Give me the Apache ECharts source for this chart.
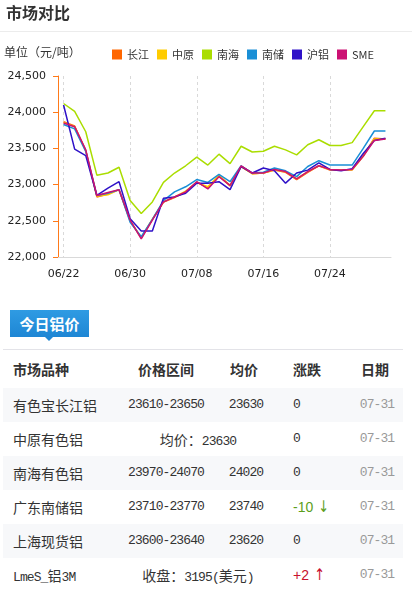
<!DOCTYPE html>
<html>
<head>
<meta charset="utf-8">
<script src="https://cdn.jsdelivr.net/npm/echarts@6/dist/echarts.min.js"></script>
<style>
  html,body{margin:0;padding:0;background:#fff;}
  body{width:412px;height:597px;position:relative;overflow:hidden;font-family:"Noto Sans CJK SC",sans-serif;color:#333;}
  #chart{position:absolute;left:0;top:0;width:412px;height:300px;}
  .abs{position:absolute;white-space:nowrap;}
  .row{position:absolute;left:3px;width:400px;height:34px;}
  .gray{background:#f7f8fa;}
  .cell{position:absolute;top:0;height:34px;line-height:34px;font-size:14px;color:#333;white-space:nowrap;}
  .mono{font-family:"Liberation Mono",monospace;font-size:13px;letter-spacing:-0.9px;}
  .c1{left:10px;}
  .c2{left:113px;width:100px;text-align:center;}
  .c3{left:213px;width:60px;text-align:center;}
  .c23{left:125px;width:140px;text-align:center;}
  .c4{left:290px;}
  .c5{left:344px;width:60px;text-align:center;color:#999;}
  .hd{font-weight:bold;font-size:14px;}
  .arr{font-family:"DejaVu Sans";font-size:16px;display:inline-block;transform:scaleX(0.8);}
</style>
</head>
<body>
<div id="chart"></div>
<div class="abs" style="left:6px;top:2px;font-size:16px;font-weight:bold;line-height:20px;color:#333;">市场对比</div>
<div class="abs" style="left:0;top:31px;width:412px;height:1px;background:#ececec;"></div>

<div class="abs" style="left:10px;top:310px;width:79px;height:27px;background:linear-gradient(#2f9be3,#1e86d4);color:#fff;font-size:15px;font-weight:bold;line-height:27px;text-align:center;">今日铝价</div>
<div class="abs" style="left:45px;top:337px;width:0;height:0;border-left:4px solid transparent;border-right:4px solid transparent;border-top:4px solid #1e86d4;"></div>
<div class="abs" style="left:3px;top:349px;width:400px;height:1px;background:#e3e3e8;"></div>

<div class="row" style="top:352px;">
  <div class="cell hd c1">市场品种</div>
  <div class="cell hd c2">价格区间</div>
  <div class="cell hd c3" style="left:211px;">均价</div>
  <div class="cell hd c4">涨跌</div>
  <div class="cell hd c5" style="left:342px;color:#333;">日期</div>
</div>
<div class="row gray" style="top:388px;">
  <div class="cell c1">有色宝长江铝</div>
  <div class="cell c2 mono">23610-23650</div>
  <div class="cell c3 mono">23630</div>
  <div class="cell c4 mono">0</div>
  <div class="cell c5 mono">07-31</div>
</div>
<div class="row" style="top:422px;">
  <div class="cell c1">中原有色铝</div>
  <div class="cell c23">均价：<span class="mono">23630</span></div>
  <div class="cell c4 mono">0</div>
  <div class="cell c5 mono">07-31</div>
</div>
<div class="row gray" style="top:456px;">
  <div class="cell c1">南海有色铝</div>
  <div class="cell c2 mono">23970-24070</div>
  <div class="cell c3 mono">24020</div>
  <div class="cell c4 mono">0</div>
  <div class="cell c5 mono">07-31</div>
</div>
<div class="row" style="top:490px;">
  <div class="cell c1">广东南储铝</div>
  <div class="cell c2 mono">23710-23770</div>
  <div class="cell c3 mono">23740</div>
  <div class="cell c4" style="color:#5c9e1c;font-family:'Liberation Sans';">-10 <span class="arr">↓</span></div>
  <div class="cell c5 mono">07-31</div>
</div>
<div class="row gray" style="top:524px;">
  <div class="cell c1">上海现货铝</div>
  <div class="cell c2 mono">23600-23640</div>
  <div class="cell c3 mono">23620</div>
  <div class="cell c4 mono">0</div>
  <div class="cell c5 mono">07-31</div>
</div>
<div class="row" style="top:558px;">
  <div class="cell c1"><span class="mono">LmeS_</span>铝<span class="mono">3M</span></div>
  <div class="cell c23">收盘：<span class="mono">3195(</span>美元<span class="mono">)</span></div>
  <div class="cell c4" style="color:#c8102e;font-family:'Liberation Sans';">+2 <span class="arr">↑</span></div>
  <div class="cell c5 mono">07-31</div>
</div>

<script>
// ---- data ----
const dates = ['06/22','06/23','06/24','06/25','06/26','06/29','06/30','07/01','07/02','07/03',
               '07/06','07/07','07/08','07/09','07/10','07/13','07/14','07/15','07/16','07/17',
               '07/20','07/21','07/22','07/23','07/24','07/27','07/28','07/29','07/30','07/31'];
const changjiang = [23870,23810,23470,22830,22870,22930,22500,22260,22520,22760,
                    22820,22900,23030,22960,23120,22980,23250,23150,23160,23200,
                    23170,23070,23170,23260,23200,23200,23210,23400,23640,23630];
const zhongyuan  = [23860,23800,23470,22840,22860,22930,22500,22270,22520,22760,
                    22830,22910,23030,22970,23130,22990,23250,23150,23160,23200,
                    23180,23080,23180,23260,23210,23200,23200,23390,23630,23630];
const nanhai     = [24120,24010,23730,23130,23160,23240,22780,22600,22760,23030,
                    23160,23260,23380,23270,23420,23290,23530,23450,23460,23530,
                    23480,23410,23550,23620,23540,23540,23580,23800,24020,24020];
const nanchu     = [23830,23770,23460,22850,22880,22930,22480,22280,22520,22780,
                    22900,22970,23070,23030,23140,23040,23260,23160,23170,23230,
                    23190,23110,23250,23330,23270,23270,23270,23500,23740,23740];
const hulv        = [24100,23490,23400,22850,22950,23040,22530,22360,22360,22810,
                    22830,22880,23020,23020,23040,22930,23250,23160,23230,23190,
                    23020,23160,23200,23300,23210,23190,23220,23430,23610,23640];
const sme         = [23850,23800,23480,22850,22890,22930,22510,22250,22510,22760,
                    22830,22900,23040,22940,23110,22990,23260,23160,23160,23210,
                    23180,23080,23180,23260,23210,23200,23210,23390,23610,23630];
const seriesNames = ['长江','中原','南海','南储','沪铝','SME'];
const yMin = 22000, yMax = 24500, yStep = 500;

const seriesData = [changjiang, zhongyuan, nanhai, nanchu, hulv, sme];
const colors = ['#ff6600','#ffcc00','#aadd00','#1a8fd6','#2f12c8','#cc1173'];

const chart = echarts.init(document.getElementById('chart'), null, {renderer:'canvas'});
chart.setOption({
  animation:false,
  backgroundColor:'transparent',
  textStyle:{fontFamily:'DejaVu Sans'},
  graphic:[{type:'text', left:4, top:46, style:{text:'单位（元/吨）', fontSize:12, fill:'#333', fontFamily:'Noto Sans CJK SC'}}],
  legend:{
    left:107, top:44, itemWidth:10, itemHeight:10, itemGap:8, icon:'rect',
    textStyle:{fontSize:11, color:'#333', fontFamily:'Noto Sans CJK SC'},
    data:seriesNames
  },
  grid:{left:58, right:21, top:76, bottom:43},
  xAxis:{
    type:'category', data:dates, boundaryGap:true,
    axisLine:{lineStyle:{color:'#d9d9d9'}},
    axisTick:{alignWithLabel:true, interval:5, length:5, lineStyle:{color:'#d9d9d9'}},
    axisLabel:{interval:5, fontSize:11, color:'#222', margin:12},
    splitLine:{show:true, interval:5, alignWithLabel:true, lineStyle:{type:[3,3], color:'#d9d9d9'}}
  },
  yAxis:{
    type:'value', min:yMin, max:yMax, interval:yStep,
    axisLine:{show:true, lineStyle:{color:'#ff7a1a'}},
    axisTick:{show:true, length:5, lineStyle:{color:'#ff7a1a'}},
    axisLabel:{fontSize:11, color:'#222', margin:12},
    splitLine:{show:false}
  },
  series: seriesNames.map((n,i)=>({
    type:'line', name:n, data:seriesData[i], symbol:'none',
    lineStyle:{width:1.5, color:colors[i]}, itemStyle:{color:colors[i]}
  }))
});
</script>
</body>
</html>
